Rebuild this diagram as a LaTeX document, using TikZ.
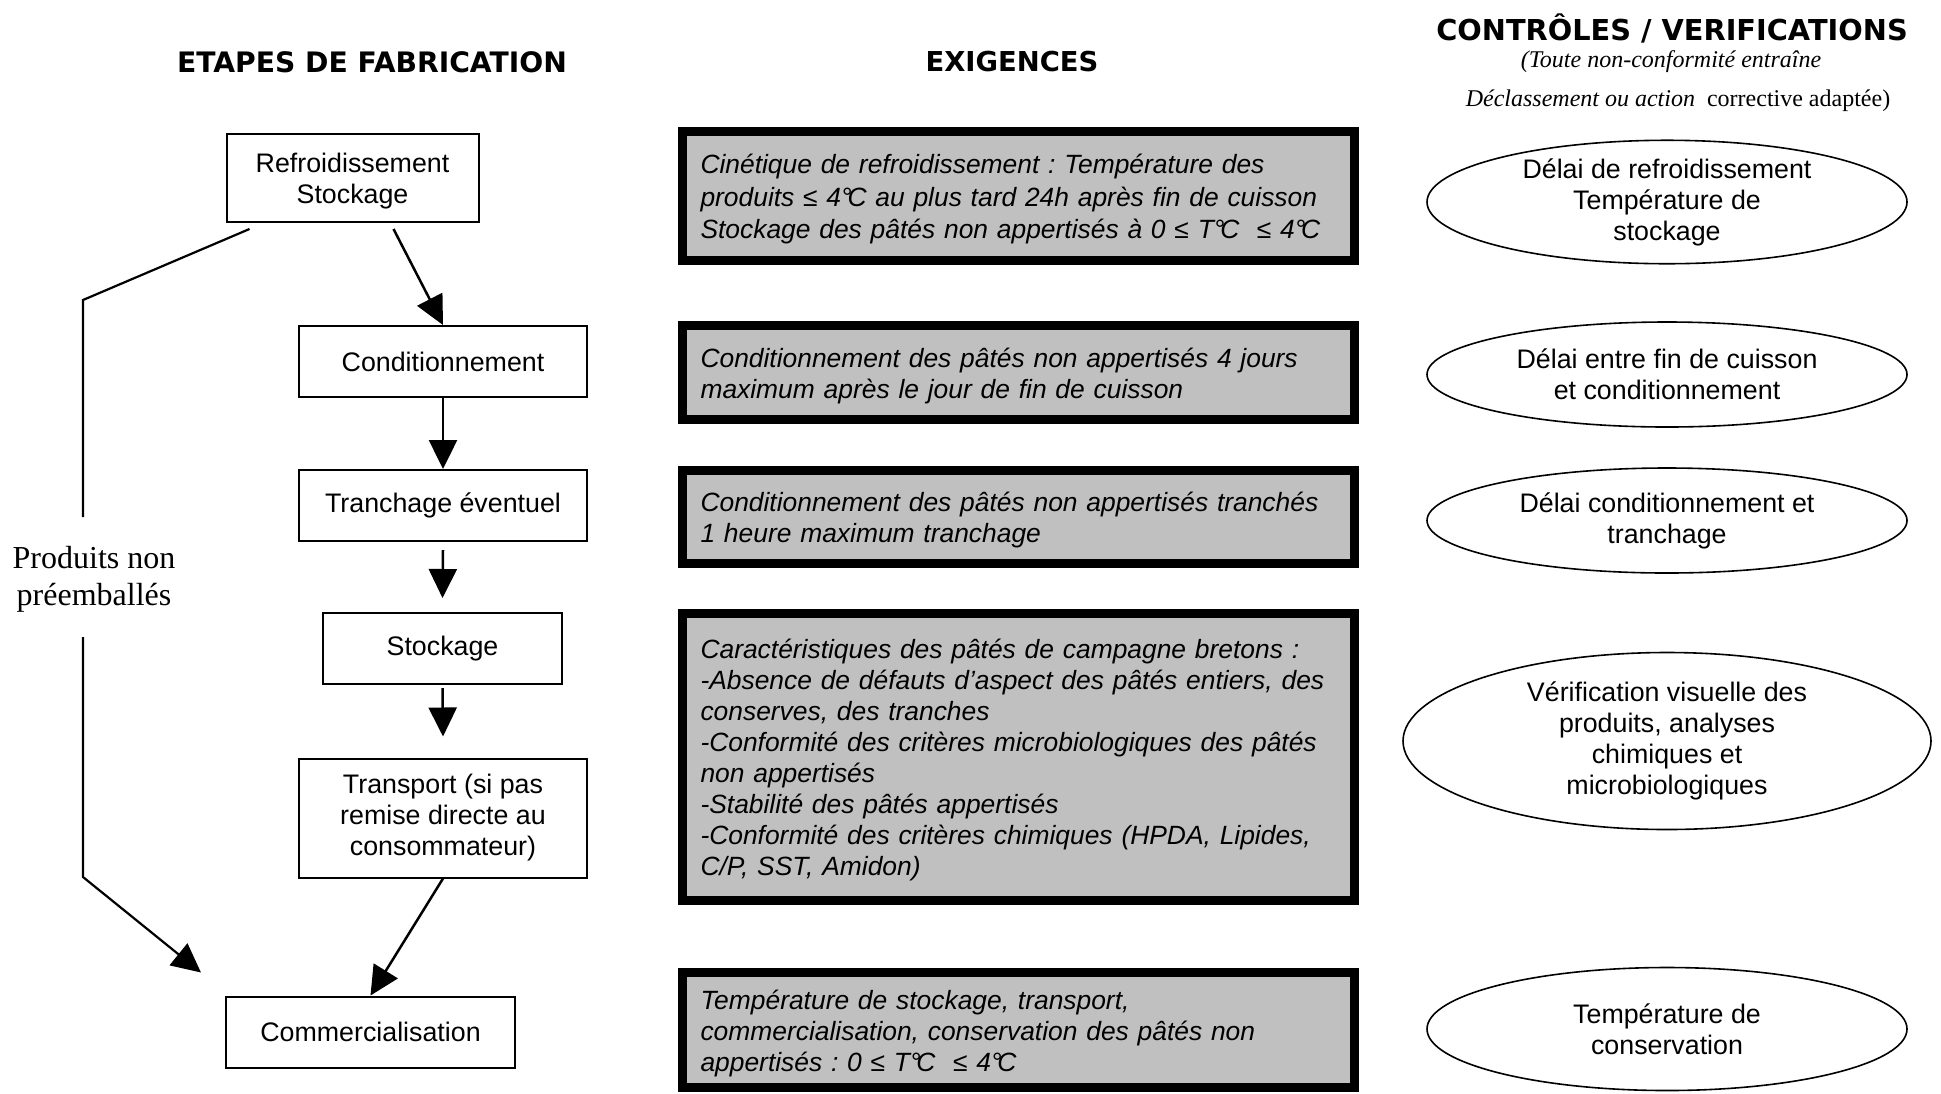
\documentclass[tikz,border=0pt]{standalone}
\usepackage{fontspec}
\setmainfont{Liberation Sans}
\newfontfamily\tnr{Liberation Serif}
\newfontfamily\djv{DejaVu Sans}
\usetikzlibrary{arrows.meta,shapes.geometric}
\definecolor{boxgray}{HTML}{C0C0C0}
\frenchspacing
\newcommand\fs{\fontsize{13.4pt}{15.5pt}\selectfont}
\newcommand\fsi{\fontsize{13.2pt}{15.5pt}\selectfont\itshape}
\newcommand\dgc{°\kern-0.16em C}
\newcommand\up{\rule{0pt}{12.8pt}}
\begin{document}
\begin{tikzpicture}[x=0.5pt,y=-0.5pt,
  stepbox/.style={draw, line width=1pt, inner sep=0pt, align=center, font=\fs},
  reqbox/.style={draw, line width=4.5pt, fill=boxgray, inner xsep=9pt, inner ysep=0pt,
     text width=318pt, align=left, font=\fsi},
  ctrl/.style={draw, ellipse, line width=0.8pt, inner sep=0pt, align=center, font=\fs},
  titre/.style={inner sep=0pt},
  arr/.style={line width=1.25pt, -{Triangle[length=14.5pt,width=14pt]}},
  plain/.style={line width=1.1pt}]
\path[fill=white, use as bounding box] (0,0) rectangle (1941,1093);

% titles
\node[titre, font=\djv\bfseries\fontsize{14.1pt}{16pt}\selectfont] (t1) at (372,62) {ETAPES DE FABRICATION};
\node[titre, font=\djv\bfseries\fontsize{13.7pt}{16pt}\selectfont] (t2) at (1012,62) {EXIGENCES};
\node[titre, font=\djv\bfseries\fontsize{14.4pt}{16pt}\selectfont] (t3) at (1672,28) {CONTRÔLES / VERIFICATIONS};
\node[titre, font=\tnr\itshape\fontsize{12pt}{14pt}\selectfont] (s1) at (1671,62) {(Toute non-conformité entraîne};
\node[titre, font=\tnr\fontsize{12pt}{14pt}\selectfont] (s2) at (1678,101) {\textit{Déclassement ou action}\ \ corrective adaptée)};

% manufacturing steps
\node[stepbox, minimum width=126pt, minimum height=44pt] (ref) at (352.5,178) {\up Refroidissement\\Stockage};
\node[stepbox, minimum width=144pt, minimum height=35.5pt] (cond) at (443,361.5) {Conditionnement};
\node[stepbox, minimum width=144pt, minimum height=35.5pt] (tran) at (443,505.5) {Tranchage éventuel};
\node[stepbox, minimum width=119.5pt, minimum height=35.5pt] (stock) at (442.5,648.5) {Stockage};
\node[stepbox, minimum width=144pt, minimum height=59.5pt] (trans) at (443,818) {Transport (si pas\\remise directe au\\consommateur)};
\node[stepbox, minimum width=144.5pt, minimum height=35.5pt] (comm) at (370.5,1032) {Commercialisation};

\node[inner sep=0pt, align=center, font=\tnr\fontsize{16pt}{18.5pt}\selectfont] (prod) at (94,579) {Produits non\\préemballés};

% requirement boxes
\node[reqbox, minimum height=64.5pt, font=\fontsize{13.2pt}{16.4pt}\selectfont\itshape] (g1) at (1018.5,196) {\up Cinétique de refroidissement : Température des\\produits ≤ 4\dgc{} au plus tard 24h après fin de cuisson\\Stockage des pâtés non appertisés à 0 ≤ T\dgc\ \ ≤ 4\dgc};
\node[reqbox, minimum height=47pt] (g2) at (1018.5,372.5) {\up Conditionnement des pâtés non appertisés 4 jours\\maximum après le jour de fin de cuisson};
\node[reqbox, minimum height=46.5pt] (g3) at (1018.5,517) {\up Conditionnement des pâtés non appertisés tranchés\\1 heure maximum tranchage};
\node[reqbox, minimum height=143.5pt] (g4) at (1018.5,757) {\up Caractéristiques des pâtés de campagne bretons :\\-Absence de défauts d'aspect des pâtés entiers, des\\conserves, des tranches\\-Conformité des critères microbiologiques des pâtés\\non appertisés\\-Stabilité des pâtés appertisés\\-Conformité des critères chimiques (HPDA, Lipides,\\C/P, SST, Amidon)};
\node[reqbox, minimum height=57.5pt] (g5) at (1018.5,1030) {\up Température de stockage, transport,\\commercialisation, conservation des pâtés non\\appertisés : 0 ≤ T\dgc\ \ ≤ 4\dgc};

% controls
\node[ctrl, minimum width=240pt, minimum height=51.5pt] (e1) at (1667,202) {Délai de refroidissement\\Température de\\stockage};
\node[ctrl, minimum width=240pt, minimum height=52.5pt] (e2) at (1667,374.5) {Délai entre fin de cuisson\\et conditionnement};
\node[ctrl, minimum width=240pt, minimum height=52.5pt] (e3) at (1667,520.5) {Délai conditionnement et\\tranchage};
\node[ctrl, minimum width=264pt, minimum height=88.5pt] (e4) at (1667,741) {Vérification visuelle des\\produits, analyses\\chimiques et\\microbiologiques};
\node[ctrl, minimum width=240pt, minimum height=61.5pt] (e5) at (1667,1029) {Température de\\conservation};

% connectors
\draw[arr] ([shift={(41,6)}]ref.south) -- (cond.north);
\draw[arr] (cond.south) -- (tran.north);
\draw[arr] ([shift={(0,8)}]tran.south) -- ([shift={(0,-14)}]stock.north);
\draw[arr] ([shift={(0,3)}]stock.south) -- ([shift={(0,-21)}]trans.north);
\draw[arr] (trans.south) -- (comm.north);

\coordinate (b1) at (83,300);
\coordinate (ga) at (83,517);
\coordinate (gb) at (83,637);
\coordinate (b2) at (83,877);
\draw[plain, line join=miter] ([shift={(24,6)}]ref.south west) -- (b1) -- (ga);
\draw[arr, line width=1.1pt, line join=miter] (gb) -- (b2) -- ([shift={(-24,-23)}]comm.north west);
\end{tikzpicture}
\end{document}
